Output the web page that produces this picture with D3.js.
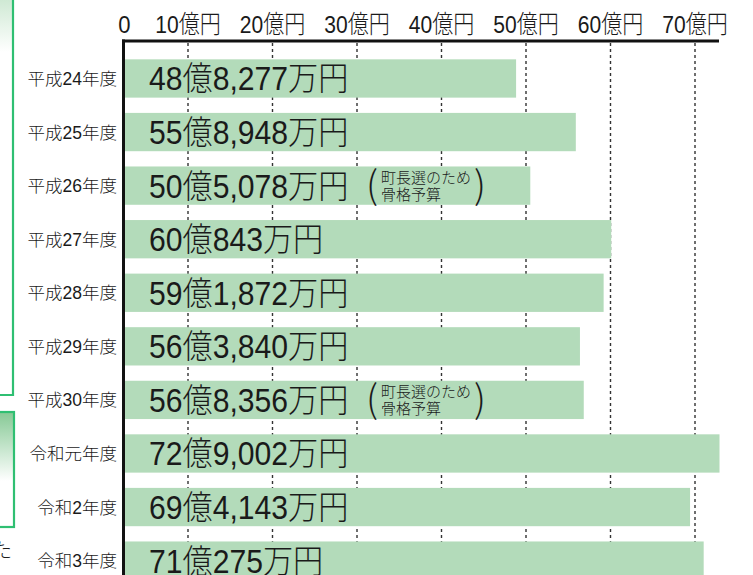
<!DOCTYPE html>
<html><head><meta charset="utf-8">
<script src="https://cdn.jsdelivr.net/npm/d3@7"></script>
<style>
html,body{margin:0;padding:0;background:#fff;}
svg{display:block;}
text{font-family:"Liberation Sans","Noto Sans CJK JP",sans-serif;fill:#1a1a1a;font-weight:300;}
text.paren{font-family:"Noto Sans CJK JP",sans-serif;font-weight:300;}
</style></head><body>
<svg id="c" width="753" height="575"></svg>
<script>
// ---- data ----
const categories = ["平成24年度","平成25年度","平成26年度","平成27年度","平成28年度","平成29年度","平成30年度","令和元年度","令和2年度","令和3年度"];
const values = [48.8277, 55.8948, 50.5078, 60.0843, 59.1872, 56.3840, 56.8356, 72.9002, 69.4143, 71.0275]; // 億円
const notes = [null, null, ["町長選のため","骨格予算"], null, null, null, ["町長選のため","骨格予算"], null, null, null];
const tickValues = [10, 20, 30, 40, 50, 60, 70];
const tickLabels = ["10億円","20億円","30億円","40億円","50億円","60億円","70億円"];
const zeroLabel = "0";

function fmt(v){
  const oku = Math.floor(v + 1e-9);
  const man = Math.round((v - oku) * 10000);
  return oku + "億" + d3.format(",")(man) + "万円";
}

const svg = d3.select("#c");
const green = "#2fbf72";
const axisX = 123.5, axisY = 41;

// decorative left fragments
const defs = svg.append("defs");
const g1 = defs.append("linearGradient").attr("id","gTop").attr("x1",0).attr("y1",0).attr("x2",0).attr("y2",1);
g1.append("stop").attr("offset","0%").attr("stop-color","#cfe9d4");
g1.append("stop").attr("offset","100%").attr("stop-color","#ffffff");
const g2 = defs.append("linearGradient").attr("id","gBox").attr("x1",0).attr("y1",0).attr("x2",0).attr("y2",1);
g2.append("stop").attr("offset","0%").attr("stop-color","#86c995");
g2.append("stop").attr("offset","60%").attr("stop-color","#ffffff");
g2.append("stop").attr("offset","100%").attr("stop-color","#ffffff");
svg.append("rect").attr("x",0).attr("y",0).attr("width",12).attr("height",52).attr("fill","url(#gTop)");
svg.append("path").attr("d","M13,0 V395 H-2").attr("fill","none").attr("stroke",green).attr("stroke-width",2.2);
svg.append("rect").attr("x",-3).attr("y",412).attr("width",17).attr("height",115)
  .attr("fill","url(#gBox)").attr("stroke",green).attr("stroke-width",2.2);
svg.append("text").attr("x",-8).attr("y",558).attr("font-size",20).text("た");

// scales
const x = d3.scaleLinear().domain([0, 70]).range([103.5, 695]);
const y = d3.scaleBand().domain(categories).range([51.7, 51.7 + 535.7]).paddingInner(0.285).paddingOuter(0.1425);

// gridlines
svg.append("g").selectAll("line").data(tickValues).join("line")
  .attr("x1", d => x(d)).attr("x2", d => x(d))
  .attr("y1", axisY + 2).attr("y2", 575)
  .attr("stroke", "#333").attr("stroke-width", 1.4).attr("stroke-dasharray", "3,3");

// bars
svg.append("g").selectAll("rect").data(values).join("rect")
  .attr("x", axisX + 1.5)
  .attr("y", (d,i) => y(categories[i]))
  .attr("width", d => x(d) - axisX - 1.5)
  .attr("height", y.bandwidth())
  .attr("fill", "#b3dbba");

// condensed text helper
function ctext(sel, px, py, str, size, sx, anchor){
  return sel.append("text")
    .attr("transform", `translate(${px},${py}) scale(${sx},1)`)
    .attr("font-size", size).attr("text-anchor", anchor || "start").text(str);
}

// axis lines
svg.append("line").attr("x1", axisX - 1.5).attr("x2", 719).attr("y1", axisY).attr("y2", axisY)
  .attr("stroke", "#111").attr("stroke-width", 3);
svg.append("line").attr("x1", axisX).attr("x2", axisX).attr("y1", axisY - 1.5).attr("y2", 575)
  .attr("stroke", "#111").attr("stroke-width", 3);

// tick labels
const tg = svg.append("g");
ctext(tg, 124.5, 33, zeroLabel, 24.5, 0.9, "middle");
tickValues.forEach((t,i) => ctext(tg, x(t), 33, tickLabels[i], 24.5, 0.86, "middle"));

// category labels
const cg = svg.append("g");
categories.forEach(c => ctext(cg, 117, y(c) + y.bandwidth()/2 + 6.5, c, 17.5, 1, "end"));

// value labels and notes
const vg = svg.append("g");
values.forEach((v,i) => {
  const cy = y(categories[i]) + y.bandwidth()/2;
  ctext(vg, 149, cy + 12, fmt(v), 33.5, 0.9, "start");
  if (notes[i]) {
    ctext(vg, 366, cy + 13, "(", 38, 1, "start").attr("class","paren");
    ctext(vg, 381, cy - 2.5, notes[i][0], 15, 1, "start");
    ctext(vg, 381, cy + 14, notes[i][1], 15, 1, "start");
    ctext(vg, 474, cy + 13, ")", 38, 1, "start").attr("class","paren");
  }
});
</script>
</body></html>
